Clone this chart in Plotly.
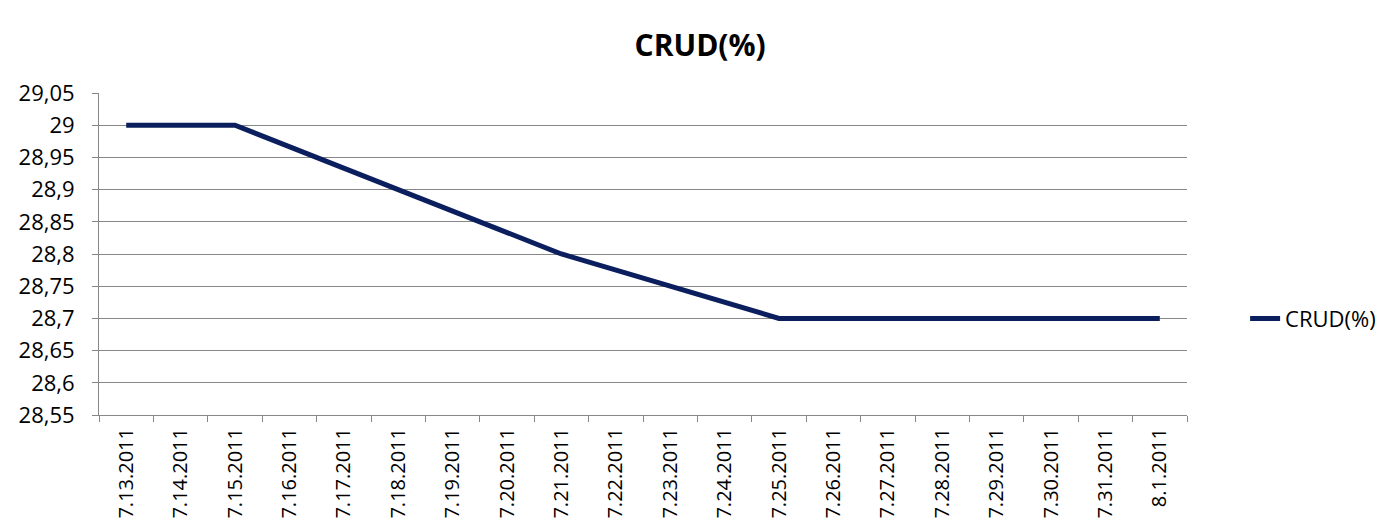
import plotly.graph_objects as go

dates = ["7.13.2011", "7.14.2011", "7.15.2011", "7.16.2011", "7.17.2011",
         "7.18.2011", "7.19.2011", "7.20.2011", "7.21.2011", "7.22.2011",
         "7.23.2011", "7.24.2011", "7.25.2011", "7.26.2011", "7.27.2011",
         "7.28.2011", "7.29.2011", "7.30.2011", "7.31.2011", "8.1.2011"]
crud = [29.0, None, 29.0, None, None,
        None, None, None, 28.8, None,
        None, None, 28.7, None, None,
        None, None, None, None, 28.7]
series_name = "CRUD(%)"
title = "CRUD(%)"

FONT = "Open Sans"
GRID = "#878787"

fig = go.Figure()
fig.add_trace(go.Scatter(
    x=dates, y=crud, mode="lines", name=series_name, connectgaps=True,
    line=dict(color="#0b1f5e", width=5),
))

fig.update_layout(
    width=1385, height=531,
    paper_bgcolor="white", plot_bgcolor="white",
    separators=", ",
    margin=dict(l=99, r=198, t=93, b=116),
    title=dict(text="<b>" + title + "</b>", x=0.5055, xanchor="center",
               y=0.915, yref="container", yanchor="middle",
               font=dict(family=FONT, size=30, color="black")),
    font=dict(family=FONT, color="black"),
    showlegend=True,
    legend=dict(xref="container", x=0.899, xanchor="left",
                yref="container", y=0.40, yanchor="middle",
                font=dict(family=FONT, size=22, color="black"),
                bgcolor="rgba(0,0,0,0)"),
)
fig.update_xaxes(
    type="category", categoryorder="array", categoryarray=dates,
    range=[-0.5, len(dates) - 0.5], automargin=False,
    tickson="boundaries", ticks="outside", ticklen=6, tickcolor=GRID,
    showline=True, linecolor=GRID, linewidth=1, showgrid=False,
    tickangle=-90, ticklabelstandoff=4,
    tickfont=dict(family=FONT, size=20, color="black"),
)
fig.update_yaxes(
    range=[28.55, 29.05], dtick=0.05, tick0=28.55, automargin=False,
    ticks="outside", ticklen=6, tickcolor=GRID,
    showline=True, linecolor=GRID, linewidth=1,
    showgrid=True, gridcolor=GRID, gridwidth=1, zeroline=False,
    ticklabelstandoff=13,
    tickfont=dict(family=FONT, size=22, color="black"),
)
fig.write_html(
    "out.html",
    config={"displayModeBar": False},
    post_script="document.body.style.margin='0';document.body.style.overflow='hidden';",
)
